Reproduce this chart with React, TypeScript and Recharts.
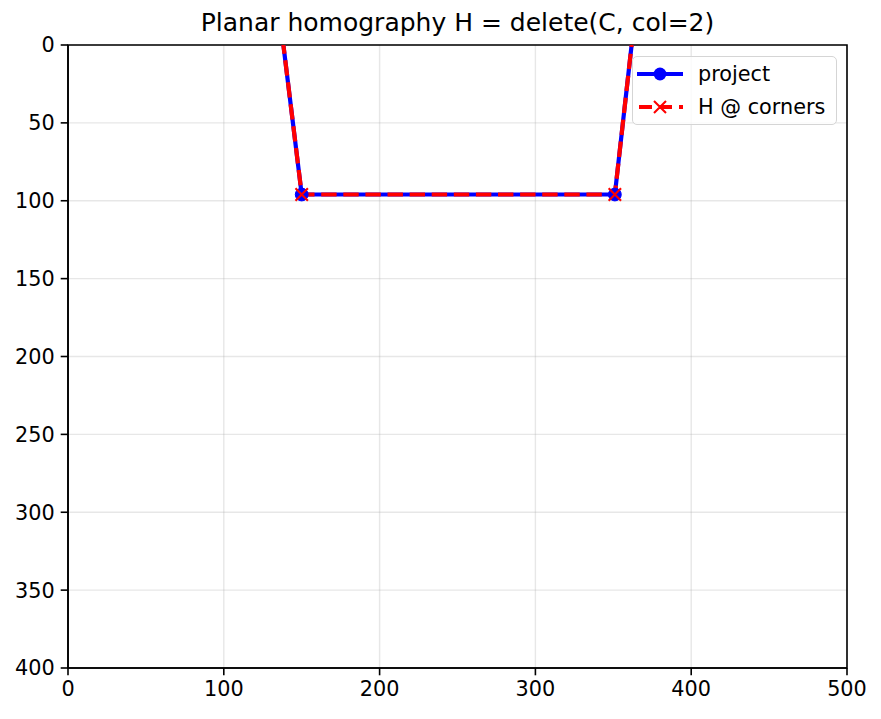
import React from "react";
import {
  LineChart,
  Line,
  XAxis,
  YAxis,
  CartesianGrid,
  ReferenceArea,
} from "recharts";

// polygon corners (the top two lie above the visible area)
const cornerX: number[] = [101.5, 150, 351, 395.4, 101.5];
const cornerY: number[] = [-300, 96, 96, -300, -300];
// the homography of the corners lands on the same points
const homX: number[] = [101.5, 150, 351, 395.4, 101.5];
const homY: number[] = [-300, 96, 96, -300, -300];

const xTicks: number[] = [0, 100, 200, 300, 400, 500];
const yTicks: number[] = [0, 50, 100, 150, 200, 250, 300, 350, 400];

const projectData = cornerX.map((x, i) => ({ x, y: cornerY[i] }));
const homData = homX.map((x, i) => ({ x, y: homY[i] }));

const FONT = "'DejaVu Sans', sans-serif";
const W = 881;
const H = 719;
const LW = 4.2;
const DASH = "15.4 6.7";

// eslint-disable-next-line @typescript-eslint/no-explicit-any
const XMark = (props: any) => {
  const { cx, cy } = props;
  if (cx == null || cy == null) return <g />;
  const s = 6.2;
  return (
    <path
      d={`M${cx - s},${cy - s}L${cx + s},${cy + s}M${cx - s},${cy + s}L${cx + s},${cy - s}`}
      stroke="#ff0000"
      strokeWidth={2.1}
      fill="none"
    />
  );
};

// eslint-disable-next-line @typescript-eslint/no-explicit-any
const CircleMark = (props: any) => {
  const { cx, cy } = props;
  if (cx == null || cy == null) return <g />;
  return <circle cx={cx} cy={cy} r={6.4} fill="#0000ff" stroke="#0000ff" strokeWidth={1} />;
};

export default function App() {
  return (
    <div
      style={{
        position: "absolute",
        left: 0,
        top: 0,
        width: W,
        height: H,
        background: "#fff",
        fontFamily: FONT,
      }}
    >
      <div
        style={{
          position: "absolute",
          left: 68,
          width: 779,
          top: 8,
          textAlign: "center",
          fontSize: 25,
          color: "#000",
          lineHeight: "30px",
          whiteSpace: "nowrap",
        }}
      >
        Planar homography H = delete(C, col=2)
      </div>

      <LineChart
        width={W}
        height={H}
        margin={{ top: 45, right: 34, bottom: 21, left: 8 }}
      >
        <CartesianGrid stroke="#b0b0b0" strokeOpacity={0.3} strokeWidth={1.4} />
        <XAxis
          type="number"
          dataKey="x"
          domain={[0, 500]}
          ticks={xTicks}
          allowDataOverflow
          height={30}
          tickSize={7.3}
          tickMargin={6}
          axisLine={{ stroke: "#000", strokeWidth: 1.6 }}
          tickLine={{ stroke: "#000", strokeWidth: 1.6 }}
          tick={{ fill: "#000", fontSize: 20.8, fontFamily: FONT }}
        />
        <YAxis
          type="number"
          dataKey="y"
          domain={[0, 400]}
          ticks={yTicks}
          reversed
          allowDataOverflow
          width={60}
          tickSize={7.3}
          tickMargin={6}
          axisLine={{ stroke: "#000", strokeWidth: 1.6 }}
          tickLine={{ stroke: "#000", strokeWidth: 1.6 }}
          tick={{ fill: "#000", fontSize: 20.8, fontFamily: FONT }}
        />
        <ReferenceArea
          x1={0}
          x2={500}
          y1={0}
          y2={400}
          fill="none"
          fillOpacity={0}
          stroke="#000"
          strokeWidth={1.6}
        />
        <Line
          data={projectData}
          dataKey="y"
          type="linear"
          stroke="#0000ff"
          strokeWidth={LW}
          dot={(p) => <CircleMark key={`c${p.index}`} cx={p.cx} cy={p.cy} />}
          activeDot={false}
          isAnimationActive={false}
        />
        <Line
          data={homData}
          dataKey="y"
          type="linear"
          stroke="#ff0000"
          strokeWidth={LW}
          strokeDasharray={DASH}
          dot={(p) => <XMark key={`x${p.index}`} cx={p.cx} cy={p.cy} />}
          activeDot={false}
          isAnimationActive={false}
        />
      </LineChart>

      {/* legend box, upper right inside the axes */}
      <div
        style={{
          position: "absolute",
          left: 632,
          top: 56,
          width: 203,
          height: 67,
          border: "1.4px solid #d5d5d5",
          borderRadius: 5,
          background: "rgba(255,255,255,0.8)",
          fontSize: 20.8,
          color: "#000",
          whiteSpace: "nowrap",
        }}
      >
        <div style={{ position: "absolute", left: 0, top: 3, height: 28, display: "flex", alignItems: "center" }}>
          <svg width={60} height={28} style={{ display: "block" }}>
            <line x1={4} y1={14} x2={50} y2={14} stroke="#0000ff" strokeWidth={LW} />
            <circle cx={27} cy={14} r={6.4} fill="#0000ff" />
          </svg>
          <span style={{ marginLeft: 5 }}>project</span>
        </div>
        <div style={{ position: "absolute", left: 0, top: 36, height: 28, display: "flex", alignItems: "center" }}>
          <svg width={60} height={28} style={{ display: "block" }}>
            <line x1={6} y1={14} x2={50} y2={14} stroke="#ff0000" strokeWidth={LW} strokeDasharray="13 7" />
            <path d="M21,8L33,20M21,20L33,8" stroke="#ff0000" strokeWidth={2.1} />
          </svg>
          <span style={{ marginLeft: 5 }}>H @ corners</span>
        </div>
      </div>
    </div>
  );
}
